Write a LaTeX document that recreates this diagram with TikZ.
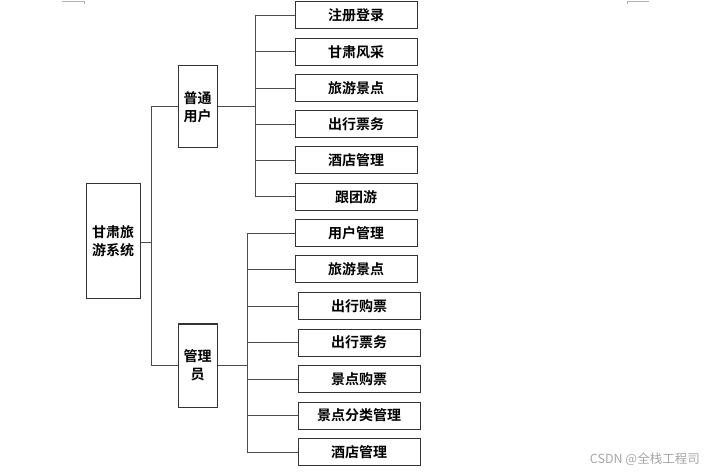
\documentclass[tikz,border=0pt]{standalone}
\usepackage{fontspec}
\usepackage{tikz}
\usepackage{xcolor}
\newfontfamily\cjk{Noto Sans CJK SC}[BoldFont={Noto Sans CJK SC Bold}]

\tikzset{
  box/.style={draw=black!80,line width=1pt,align=center,inner sep=0pt,
    font=\cjk\bfseries\fontsize{14}{18}\selectfont},
  leaf/.style={box,minimum width=122pt,minimum height=27pt},
  conn/.style={draw=black!70,line width=1pt}
}

\begin{document}
\begin{tikzpicture}[x=1pt,y=-1pt]
  \useasboundingbox (0,0) rectangle (710,473);
  % page corner marks
  \draw[black!30,line width=0.6pt] (62,1) -- (84,1) -- (84,4);
  \draw[black!30,line width=0.6pt] (627,4) -- (627,1) -- (649,1);

  \node[box,minimum width=54pt,minimum height=115pt] (root) at (113,241.5) {甘肃旅\\游系统};
  \node[box,minimum width=39pt,minimum height=82pt] (user) at (197.5,107) {普通\\用户};
  \node[box,minimum width=39pt,minimum height=83pt] (admin) at (197.5,365.5) {管理\\员};

  \coordinate (t0) at (151,243);
  \coordinate (t1) at (255,107);
  \coordinate (t2) at (247,365);

  \draw[conn] (root.east |- t0) -- (t0);
  \draw[conn] (t0) |- (user.west);
  \draw[conn] (t0) |- (admin.west);
  \draw[conn] (user.east) -- (t1);
  \draw[conn] (admin.east |- t2) -- (t2);

  % user functions
  \foreach \t/\y [count=\i] in {注册登录/15.5,甘肃风采/52,旅游景点/88.5,
      出行票务/124.5,酒店管理/160.5,跟团游/197} {
    \node[leaf] (u\i) at (356,\y) {\t};
    \draw[conn] (t1) |- (u\i.west);
  }

  % admin functions
  \foreach \t/\x/\y [count=\i] in {用户管理/356/233.5,旅游景点/356/269.5,
      出行购票/359/306.5,出行票务/359/342.5,景点购票/359/379,
      景点分类管理/359/415.5,酒店管理/359/452} {
    \node[leaf] (m\i) at (\x,\y) {\t};
    \draw[conn] (t2) |- (m\i.west);
  }

  \node[anchor=east,text=black!35,inner sep=0pt,font=\cjk\fontsize{12.5}{14}\selectfont]
    (mark) at (700,459) {CSDN @全栈工程司};
\end{tikzpicture}
\end{document}
